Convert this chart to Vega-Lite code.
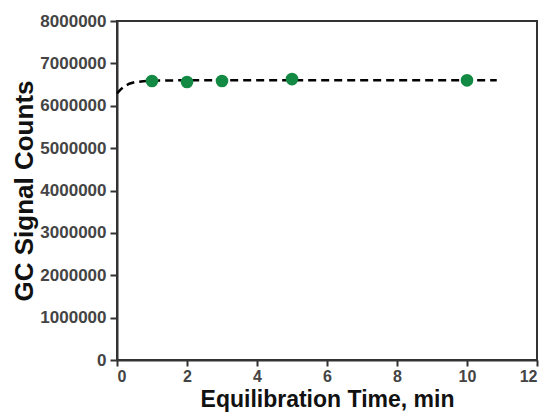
{
  "$schema": "https://vega.github.io/schema/vega-lite/v6.json",
  "width": 420,
  "height": 339,
  "autosize": {"type": "none"},
  "padding": {"left": 117, "top": 21, "right": 12, "bottom": 56},
  "background": "white",
  "view": {"stroke": "#333", "strokeWidth": 2},
  "datasets": {
    "points": [
      {"t": 1, "counts": 6585000},
      {"t": 2, "counts": 6560000},
      {"t": 3, "counts": 6585000},
      {"t": 5, "counts": 6630000},
      {"t": 10, "counts": 6600000}
    ],
    "fit": [
      {"t": 0, "counts": 6290000},
      {"t": 0.1, "counts": 6380000},
      {"t": 0.2, "counts": 6450000},
      {"t": 0.35, "counts": 6520000},
      {"t": 0.5, "counts": 6555000},
      {"t": 0.75, "counts": 6580000},
      {"t": 1, "counts": 6592000},
      {"t": 1.5, "counts": 6598000},
      {"t": 2, "counts": 6600000},
      {"t": 10.85, "counts": 6600000}
    ]
  },
  "layer": [
    {
      "data": {"name": "fit"},
      "mark": {"type": "line", "color": "black", "strokeWidth": 2.5, "strokeDash": [8, 5]},
      "encoding": {
        "x": {
          "field": "t", "type": "quantitative",
          "scale": {"domain": [0, 12], "nice": false},
          "axis": {
            "values": [0, 1, 2, 3, 4, 5, 6, 7, 8, 9, 10, 11, 12],
            "labelExpr": "datum.value % 2 === 0 ? datum.label : ''",
            "title": "Equilibration Time, min",
            "titleFont": "Liberation Sans", "titleFontSize": 23, "titleFontWeight": "bold", "titleColor": "#111",
            "titlePadding": 4,
            "labelFont": "Liberation Sans", "labelFontSize": 16, "labelFontWeight": "bold", "labelColor": "#444",
            "labelPadding": 2,
            "tickSize": {"condition": {"test": "datum.value % 2 === 1", "value": 3}, "value": 6},
            "tickColor": "#333", "tickWidth": 2,
            "domainColor": "#333", "domainWidth": 2,
            "grid": false
          }
        },
        "y": {
          "field": "counts", "type": "quantitative",
          "scale": {"domain": [0, 8000000], "nice": false},
          "axis": {
            "values": [0, 500000, 1000000, 1500000, 2000000, 2500000, 3000000, 3500000, 4000000, 4500000, 5000000, 5500000, 6000000, 6500000, 7000000, 7500000, 8000000],
            "labelExpr": "datum.value % 1000000 === 0 ? format(datum.value, 'd') : ''",
            "title": "GC Signal Counts",
            "titleFont": "Liberation Sans", "titleFontSize": 26, "titleFontWeight": "bold", "titleColor": "#111",
            "titlePadding": 2,
            "labelFont": "Liberation Sans", "labelFontSize": 17, "labelFontWeight": "bold", "labelColor": "#444",
            "labelPadding": 4,
            "tickSize": {"condition": {"test": "datum.value % 1000000 !== 0", "value": 3}, "value": 7},
            "tickColor": "#333", "tickWidth": 2,
            "domainColor": "#333", "domainWidth": 2,
            "grid": false
          }
        }
      }
    },
    {
      "data": {"name": "points"},
      "mark": {"type": "circle", "size": 160, "color": "#138a43", "opacity": 1},
      "encoding": {
        "x": {"field": "t", "type": "quantitative"},
        "y": {"field": "counts", "type": "quantitative"}
      }
    }
  ]
}
